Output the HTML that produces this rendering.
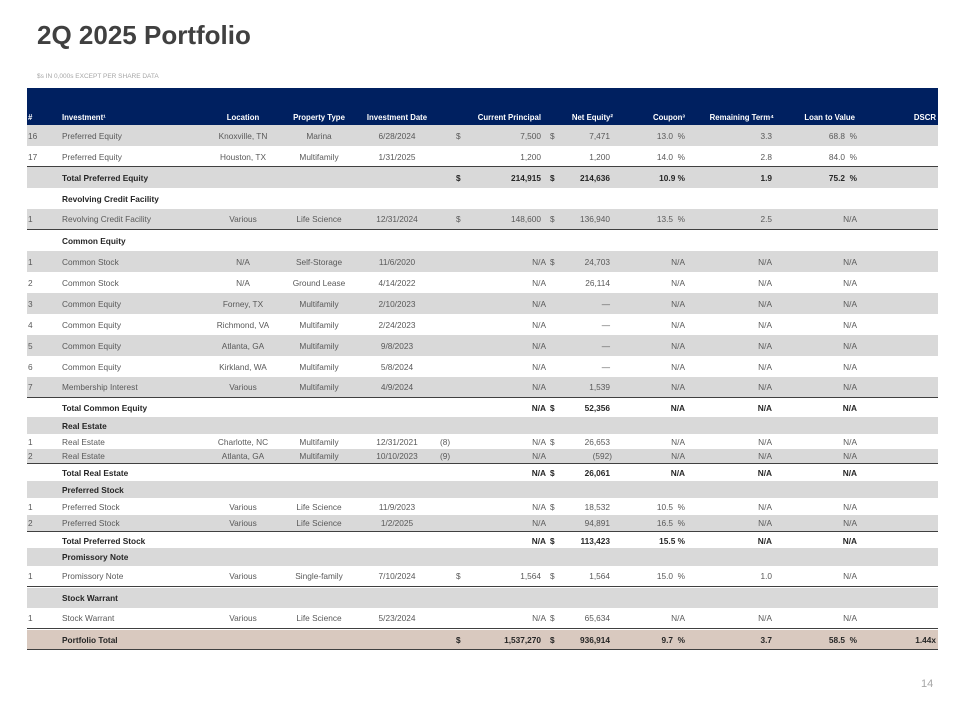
<!DOCTYPE html>
<html><head><meta charset="utf-8"><style>
body{margin:0;width:960px;height:720px;position:relative;background:#fff;font-family:"Liberation Sans",sans-serif;overflow:hidden}
.t{position:absolute;left:37px;top:20px;font-size:26px;font-weight:bold;color:#404040}
.s{position:absolute;left:37px;top:73px;font-size:6.5px;color:#a6a6a6}
.pg{position:absolute;left:921px;top:678px;font-size:11px;color:#a6a6a6}
.hd{position:absolute;left:27px;top:88px;width:911px;height:37px;background:#002060;color:#fff;font-weight:bold}
.r{position:absolute;left:27px;width:911px;color:#595959}
.g{background:#d9d9d9}.w{background:#fff}.tan{background:#d9c9bf}
.bt{border-top:1.5px solid #404040}.bb{border-bottom:1.5px solid #404040}
.b{font-weight:bold;color:#262626}
span{position:absolute;font-size:8.3px;white-space:pre;line-height:10px}
.hd span{font-size:7.8px}
.r span{top:50%;margin-top:-5px}
.hd span{top:25px}
.c0{left:1px}.c1{left:35px}
.loc{left:166px;width:100px;text-align:center}
.pt{left:252px;width:80px;text-align:center}
.dt{left:330px;width:80px;text-align:center}
.d1{left:429px}.cp{right:397px}.na{right:392px}.d2{left:523px}.ne{right:328px}
.cn{right:253px}.rt{right:166px}.lv{right:81px}.ds{right:2px}
</style></head><body>
<div class="t">2Q 2025 Portfolio</div>
<div class="s">$s IN 0,000s EXCEPT PER SHARE DATA</div>
<div class="hd">
<span class="c0">#</span><span class="c1">Investment¹</span><span class="loc">Location</span><span class="pt">Property Type</span><span class="dt">Investment Date</span><span class="cp">Current Principal</span><span class="ne" style="right:325px">Net Equity²</span><span class="cn" style="right:253px">Coupon³</span><span class="rt" style="right:164px">Remaining Term⁴</span><span class="lv" style="right:83px">Loan to Value</span><span class="ds">DSCR</span>
</div>

<div class="r g" style="top:125px;height:21px"><span class="c0">16</span><span class="c1">Preferred Equity</span><span class="loc">Knoxville, TN</span><span class="pt">Marina</span><span class="dt">6/28/2024</span><span class="d1">$</span><span class="cp">7,500</span><span class="d2">$</span><span class="ne">7,471</span><span class="cn">13.0  %</span><span class="rt">3.3</span><span class="lv">68.8  %</span></div>
<div class="r w" style="top:146px;height:21px"><span class="c0">17</span><span class="c1">Preferred Equity</span><span class="loc">Houston, TX</span><span class="pt">Multifamily</span><span class="dt">1/31/2025</span><span class="cp">1,200</span><span class="ne">1,200</span><span class="cn">14.0  %</span><span class="rt">2.8</span><span class="lv">84.0  %</span></div>
<div class="r g b bt" style="top:166px;height:21px"><span class="c1">Total Preferred Equity</span><span class="d1">$</span><span class="cp">214,915</span><span class="d2">$</span><span class="ne">214,636</span><span class="cn">10.9 %</span><span class="rt">1.9</span><span class="lv">75.2  %</span></div>
<div class="r w b" style="top:188px;height:21px"><span class="c1">Revolving Credit Facility</span></div>
<div class="r g bb" style="top:209px;height:20px"><span class="c0">1</span><span class="c1">Revolving Credit Facility</span><span class="loc">Various</span><span class="pt">Life Science</span><span class="dt">12/31/2024</span><span class="d1">$</span><span class="cp">148,600</span><span class="d2">$</span><span class="ne">136,940</span><span class="cn">13.5  %</span><span class="rt">2.5</span><span class="lv">N/A</span></div>
<div class="r w b" style="top:231px;height:20px"><span class="c1">Common Equity</span></div>
<div class="r g" style="top:251px;height:21px"><span class="c0">1</span><span class="c1">Common Stock</span><span class="loc">N/A</span><span class="pt">Self-Storage</span><span class="dt">11/6/2020</span><span class="na">N/A</span><span class="d2">$</span><span class="ne">24,703</span><span class="cn">N/A</span><span class="rt">N/A</span><span class="lv">N/A</span></div>
<div class="r w" style="top:272px;height:21px"><span class="c0">2</span><span class="c1">Common Stock</span><span class="loc">N/A</span><span class="pt">Ground Lease</span><span class="dt">4/14/2022</span><span class="na">N/A</span><span class="ne">26,114</span><span class="cn">N/A</span><span class="rt">N/A</span><span class="lv">N/A</span></div>
<div class="r g" style="top:293px;height:21px"><span class="c0">3</span><span class="c1">Common Equity</span><span class="loc">Forney, TX</span><span class="pt">Multifamily</span><span class="dt">2/10/2023</span><span class="na">N/A</span><span class="ne">—</span><span class="cn">N/A</span><span class="rt">N/A</span><span class="lv">N/A</span></div>
<div class="r w" style="top:314px;height:21px"><span class="c0">4</span><span class="c1">Common Equity</span><span class="loc">Richmond, VA</span><span class="pt">Multifamily</span><span class="dt">2/24/2023</span><span class="na">N/A</span><span class="ne">—</span><span class="cn">N/A</span><span class="rt">N/A</span><span class="lv">N/A</span></div>
<div class="r g" style="top:335px;height:21px"><span class="c0">5</span><span class="c1">Common Equity</span><span class="loc">Atlanta, GA</span><span class="pt">Multifamily</span><span class="dt">9/8/2023</span><span class="na">N/A</span><span class="ne">—</span><span class="cn">N/A</span><span class="rt">N/A</span><span class="lv">N/A</span></div>
<div class="r w" style="top:356px;height:21px"><span class="c0">6</span><span class="c1">Common Equity</span><span class="loc">Kirkland, WA</span><span class="pt">Multifamily</span><span class="dt">5/8/2024</span><span class="na">N/A</span><span class="ne">—</span><span class="cn">N/A</span><span class="rt">N/A</span><span class="lv">N/A</span></div>
<div class="r g bb" style="top:377px;height:20px"><span class="c0">7</span><span class="c1">Membership Interest</span><span class="loc">Various</span><span class="pt">Multifamily</span><span class="dt">4/9/2024</span><span class="na">N/A</span><span class="ne">1,539</span><span class="cn">N/A</span><span class="rt">N/A</span><span class="lv">N/A</span></div>
<div class="r w b" style="top:399px;height:18px"><span class="c1">Total Common Equity</span><span class="na">N/A</span><span class="d2">$</span><span class="ne">52,356</span><span class="cn">N/A</span><span class="rt">N/A</span><span class="lv">N/A</span></div>
<div class="r g b" style="top:417px;height:17px"><span class="c1">Real Estate</span></div>
<div class="r w" style="top:434px;height:15px"><span class="c0">1</span><span class="c1">Real Estate</span><span class="loc">Charlotte, NC</span><span class="pt">Multifamily</span><span class="dt">12/31/2021</span><span class="d1" style="left:413px">(8)</span><span class="na">N/A</span><span class="d2">$</span><span class="ne">26,653</span><span class="cn">N/A</span><span class="rt">N/A</span><span class="lv">N/A</span></div>
<div class="r g bb" style="top:449px;height:14px"><span class="c0">2</span><span class="c1">Real Estate</span><span class="loc">Atlanta, GA</span><span class="pt">Multifamily</span><span class="dt">10/10/2023</span><span class="d1" style="left:413px">(9)</span><span class="na">N/A</span><span class="ne" style="right:326px">(592)</span><span class="cn">N/A</span><span class="rt">N/A</span><span class="lv">N/A</span></div>
<div class="r w b" style="top:465px;height:16px"><span class="c1">Total Real Estate</span><span class="na">N/A</span><span class="d2">$</span><span class="ne">26,061</span><span class="cn">N/A</span><span class="rt">N/A</span><span class="lv">N/A</span></div>
<div class="r g b" style="top:481px;height:17px"><span class="c1">Preferred Stock</span></div>
<div class="r w" style="top:498px;height:17px"><span class="c0">1</span><span class="c1">Preferred Stock</span><span class="loc">Various</span><span class="pt">Life Science</span><span class="dt">11/9/2023</span><span class="na">N/A</span><span class="d2">$</span><span class="ne">18,532</span><span class="cn">10.5  %</span><span class="rt">N/A</span><span class="lv">N/A</span></div>
<div class="r g bb" style="top:515px;height:16px"><span class="c0">2</span><span class="c1">Preferred Stock</span><span class="loc">Various</span><span class="pt">Life Science</span><span class="dt">1/2/2025</span><span class="na">N/A</span><span class="ne">94,891</span><span class="cn">16.5  %</span><span class="rt">N/A</span><span class="lv">N/A</span></div>
<div class="r w b" style="top:533px;height:15px"><span class="c1">Total Preferred Stock</span><span class="na">N/A</span><span class="d2">$</span><span class="ne">113,423</span><span class="cn">15.5 %</span><span class="rt">N/A</span><span class="lv">N/A</span></div>
<div class="r g b" style="top:548px;height:18px"><span class="c1">Promissory Note</span></div>
<div class="r w bb" style="top:566px;height:20px"><span class="c0">1</span><span class="c1">Promissory Note</span><span class="loc">Various</span><span class="pt">Single-family</span><span class="dt">7/10/2024</span><span class="d1">$</span><span class="cp">1,564</span><span class="d2">$</span><span class="ne">1,564</span><span class="cn">15.0  %</span><span class="rt">1.0</span><span class="lv">N/A</span></div>
<div class="r g b" style="top:588px;height:20px"><span class="c1">Stock Warrant</span></div>
<div class="r w bb" style="top:608px;height:20px"><span class="c0">1</span><span class="c1">Stock Warrant</span><span class="loc">Various</span><span class="pt">Life Science</span><span class="dt">5/23/2024</span><span class="na">N/A</span><span class="d2">$</span><span class="ne">65,634</span><span class="cn">N/A</span><span class="rt">N/A</span><span class="lv">N/A</span></div>
<div class="r tan b bb" style="top:630px;height:19px"><span class="c1">Portfolio Total</span><span class="d1">$</span><span class="cp">1,537,270</span><span class="d2">$</span><span class="ne">936,914</span><span class="cn">9.7  %</span><span class="rt">3.7</span><span class="lv">58.5  %</span><span class="ds">1.44x</span></div>
<div class="pg">14</div>
</body></html>
